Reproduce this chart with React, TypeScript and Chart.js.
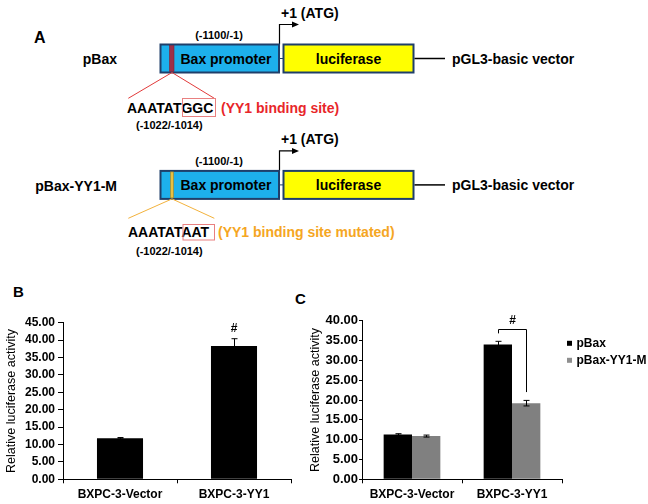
import React, { useEffect, useRef } from "react";
import { Chart, registerables } from "chart.js";
Chart.register(...registerables);

const FONT = "'Liberation Sans', Arial, Helvetica, sans-serif";

// ---------- Panel B data ----------
const categoriesB = ["BXPC-3-Vector", "BXPC-3-YY1"];
const valuesB = [11.8, 38.3];
const errorsB = [0.2, 2.1];
const marksB = ["", "#"];
const yMaxB = 45;
const yStepB = 5;

// ---------- Panel C data ----------
const categoriesC = ["BXPC-3-Vector", "BXPC-3-YY1"];
const seriesNamesC = ["pBax", "pBax-YY1-M"];
const pBaxValues = [11.3, 34.0];
const pBaxErrors = [0.2, 0.8];
const mutValues = [10.9, 19.2];
const mutErrors = [0.25, 0.7];
const yMaxC = 40;
const yStepC = 5;
const bracketLevel = 38;
const bracketLegEnds = [36.8, 22.0];
const bracketMark = "#";

const AXIS_TITLE = "Relative luciferase activity";

const errorBarPlugin = {
  id: "errorBars",
  afterDatasetsDraw(chart: any) {
    const { ctx } = chart;
    const y = chart.scales.y;
    chart.data.datasets.forEach((ds: any, i: number) => {
      const meta = chart.getDatasetMeta(i);
      meta.data.forEach((bar: any, j: number) => {
        const v = ds.data[j];
        const e = ds.errors[j];
        const top = y.getPixelForValue(v + e);
        const bot = y.getPixelForValue(v - e);
        const x = Math.round(bar.x) + 0.5;
        ctx.save();
        ctx.strokeStyle = "#000";
        ctx.lineWidth = 1;
        ctx.beginPath();
        ctx.moveTo(x, top);
        ctx.lineTo(x, bot);
        ctx.moveTo(x - 3, top);
        ctx.lineTo(x + 3, top);
        ctx.moveTo(x - 3, bot);
        ctx.lineTo(x + 3, bot);
        ctx.stroke();
        ctx.restore();
      });
    });
  },
};

const marksPluginB = {
  id: "marksB",
  afterDatasetsDraw(chart: any) {
    const { ctx } = chart;
    const y = chart.scales.y;
    const ds: any = chart.data.datasets[0];
    const meta = chart.getDatasetMeta(0);
    meta.data.forEach((bar: any, j: number) => {
      if (!marksB[j]) return;
      const top = y.getPixelForValue(ds.data[j] + ds.errors[j]);
      ctx.save();
      ctx.fillStyle = "#000";
      ctx.font = `bold 12px ${FONT}`;
      ctx.textAlign = "center";
      ctx.textBaseline = "middle";
      ctx.fillText(marksB[j], bar.x, top - 10);
      ctx.restore();
    });
  },
};

const bracketPluginC = {
  id: "bracketC",
  afterDatasetsDraw(chart: any) {
    const { ctx } = chart;
    const y = chart.scales.y;
    const b0 = chart.getDatasetMeta(0).data[1];
    const b1 = chart.getDatasetMeta(1).data[1];
    const x0 = Math.round(b0.x) + 0.5;
    const x1 = Math.round(b1.x) + 0.5;
    const yt = Math.round(y.getPixelForValue(bracketLevel)) + 0.5;
    ctx.save();
    ctx.strokeStyle = "#000";
    ctx.lineWidth = 1;
    ctx.beginPath();
    ctx.moveTo(x0, y.getPixelForValue(bracketLegEnds[0]));
    ctx.lineTo(x0, yt);
    ctx.lineTo(x1, yt);
    ctx.lineTo(x1, y.getPixelForValue(bracketLegEnds[1]));
    ctx.stroke();
    ctx.fillStyle = "#000";
    ctx.font = `bold 12px ${FONT}`;
    ctx.textAlign = "center";
    ctx.textBaseline = "middle";
    ctx.fillText(bracketMark, (x0 + x1) / 2, yt - 9);
    ctx.restore();
  },
};

const legendPluginC = {
  id: "legendC",
  afterDraw(chart: any) {
    const { ctx, chartArea } = chart;
    ctx.save();
    chart.data.datasets.forEach((ds: any, i: number) => {
      const cy = chartArea.top + 22.6 + i * 17;
      ctx.fillStyle = ds.legendColor || ds.backgroundColor;
      ctx.fillRect(chartArea.right + 5, cy - 2.5, 5, 5);
      ctx.fillStyle = "#000";
      ctx.font = `bold 12px ${FONT}`;
      ctx.textAlign = "left";
      ctx.textBaseline = "middle";
      ctx.fillText(ds.label, chartArea.right + 14.5, cy);
    });
    ctx.restore();
  },
};

function axisOptions(max: number, step: number, yWidth: number, titlePad: number, tickFont: number, tickLen: number, tickPad: number) {
  return {
    x: {
      type: "category",
      offset: true,
      grid: { display: true, drawOnChartArea: false, drawTicks: true, tickLength: 4, color: "#000", offset: true },
      border: { display: true, color: "#000", width: 1 },
      ticks: { color: "#000", font: { family: FONT, size: 12, weight: "bold" }, padding: 4.5, maxRotation: 0, autoSkip: false },
      afterFit: (s: any) => {
        s.height = 24.7;
      },
    },
    y: {
      min: 0,
      max,
      ticks: {
        stepSize: step,
        autoSkip: false,
        color: "#000",
        font: { family: FONT, size: tickFont, weight: "bold" },
        padding: tickPad,
        callback: (v: any) => Number(v).toFixed(2),
      },
      grid: { display: true, drawOnChartArea: false, drawTicks: true, tickLength: tickLen, color: "#000" },
      border: { display: true, color: "#000", width: 1 },
      title: {
        display: true,
        text: AXIS_TITLE,
        color: "#000",
        font: { family: FONT, size: 12.5, weight: "normal" },
        padding: { top: titlePad, bottom: 0 },
      },
      afterFit: (s: any) => {
        s.width = yWidth;
      },
    },
  };
}

function Construct(props: {
  dy: number;
  label: string;
  labelY: number;
  markFill: string;
  markStroke: string;
  markX: number;
  markW: number;
  lineColor: string;
  lineEndY: number;
  seqY: number;
  seqX: number;
  seqBase: string;
  seqBoxed: string;
  box: [number, number, number, number];
  desc: string;
  descX: number;
  descColor: string;
  posY: number;
}) {
  const d = props.dy;
  const boxTop = 44.5 + d;
  const boxMid = 58.5 + d;
  const bold = { fontWeight: "bold" as const };
  return (
    <g>
      <text x={117} y={props.labelY} fontSize={14} {...bold} textAnchor="end" dominantBaseline="central">
        {props.label}
      </text>
      <text x={219} y={34.5 + d} fontSize={11} {...bold} textAnchor="middle" dominantBaseline="central">
        (-1100/-1)
      </text>
      <text x={281} y={13 + d} fontSize={14} {...bold} dominantBaseline="central">
        +1 (ATG)
      </text>
      <path d={`M279.5 ${boxTop} V${24.5 + d} H293`} stroke="#000" strokeWidth={1.2} fill="none" />
      <path d={`M292 ${21.5 + d} L299 ${24.5 + d} L292 ${27.5 + d} Z`} fill="#000" />
      <rect x={160.5} y={boxTop} width={118.5} height={28} fill="#1DB0EC" stroke="#1F3F6A" strokeWidth={2} />
      <rect x={props.markX} y={boxTop + 1} width={props.markW} height={26} fill={props.markFill} stroke={props.markStroke} strokeWidth={0.6} />
      <line x1={279} y1={boxMid} x2={283.5} y2={boxMid} stroke="#1F3F6A" strokeWidth={1} />
      <rect x={283.5} y={boxTop} width={130} height={28} fill="#FFFF00" stroke="#1F3F6A" strokeWidth={2} />
      <text x={226} y={boxMid + 0.5} fontSize={14} {...bold} textAnchor="middle" dominantBaseline="central">
        Bax promoter
      </text>
      <text x={348.5} y={boxMid + 0.5} fontSize={14} {...bold} textAnchor="middle" dominantBaseline="central">
        luciferase
      </text>
      <line x1={414.5} y1={boxMid} x2={445} y2={boxMid} stroke="#000" strokeWidth={1.5} />
      <text x={452} y={boxMid + 0.5} fontSize={14} {...bold} dominantBaseline="central">
        pGL3-basic vector
      </text>
      <line x1={172} y1={boxTop + 28} x2={128.3} y2={props.lineEndY} stroke={props.lineColor} strokeWidth={1} />
      <line x1={172} y1={boxTop + 28} x2={214.3} y2={props.lineEndY} stroke={props.lineColor} strokeWidth={1} />
      <text x={props.seqX} y={props.seqY} fontSize={14} {...bold} dominantBaseline="central">
        {props.seqBase}
        <tspan>{props.seqBoxed}</tspan>
      </text>
      <rect x={props.box[0]} y={props.box[1]} width={props.box[2]} height={props.box[3]} fill="none" stroke="#E98080" strokeWidth={1} />
      <text x={props.descX} y={props.seqY} fontSize={14} {...bold} fill={props.descColor} dominantBaseline="central">
        {props.desc}
      </text>
      <text x={136} y={props.posY} fontSize={11} {...bold} dominantBaseline="central">
        (-1022/-1014)
      </text>
    </g>
  );
}

export default function App() {
  const refB = useRef<HTMLCanvasElement>(null);
  const refC = useRef<HTMLCanvasElement>(null);

  useEffect(() => {
    const chartB = new Chart(refB.current as HTMLCanvasElement, {
      type: "bar",
      data: {
        labels: categoriesB,
        datasets: [
          {
            label: "pBax",
            data: valuesB,
            errors: errorsB,
            backgroundColor: "#000000",
            borderWidth: 0,
            categoryPercentage: 1,
            barPercentage: 0.404,
          } as any,
        ],
      },
      options: {
        responsive: false,
        maintainAspectRatio: false,
        animation: false,
        layout: { padding: { top: 22.7, right: 9, bottom: 0, left: 0 } },
        plugins: { legend: { display: false }, tooltip: { enabled: false } },
        scales: axisOptions(yMaxB, yStepB, 63, 4.5, 12, 5, 3) as any,
      },
      plugins: [errorBarPlugin, marksPluginB],
    });

    const chartC = new Chart(refC.current as HTMLCanvasElement, {
      type: "bar",
      data: {
        labels: categoriesC,
        datasets: [
          {
            label: seriesNamesC[0],
            data: pBaxValues,
            errors: pBaxErrors,
            backgroundColor: "#000000",
            borderWidth: 0,
            categoryPercentage: 0.567,
            barPercentage: 1,
          } as any,
          {
            label: seriesNamesC[1],
            data: mutValues,
            errors: mutErrors,
            backgroundColor: "#808080",
            legendColor: "#8f8f8f",
            borderWidth: 0,
            categoryPercentage: 0.567,
            barPercentage: 1,
          } as any,
        ],
      },
      options: {
        responsive: false,
        maintainAspectRatio: false,
        animation: false,
        layout: { padding: { top: 20.7, right: 86, bottom: 0, left: 0 } },
        plugins: { legend: { display: false }, tooltip: { enabled: false } },
        scales: axisOptions(yMaxC, yStepC, 62, 8.5, 13, 3, 1) as any,
      },
      plugins: [errorBarPlugin, bracketPluginC, legendPluginC],
    });

    return () => {
      chartB.destroy();
      chartC.destroy();
    };
  }, []);

  return (
    <div
      style={{
        position: "fixed",
        left: 0,
        top: 0,
        width: 648,
        height: 504,
        background: "#fff",
        overflow: "hidden",
      }}
    >
      <svg width={648} height={504} style={{ position: "absolute", left: 0, top: 0 }} fontFamily={FONT}>
        <text x={34} y={37} fontSize={16} fontWeight="bold" dominantBaseline="central">
          A
        </text>
        <Construct
          dy={0}
          label="pBax"
          labelY={59}
          markFill="#9E2F48"
          markStroke="#7A2238"
          markX={169.5}
          markW={4.5}
          lineColor="#E23A3A"
          lineEndY={98.3}
          seqY={107.5}
          seqX={127}
          seqBase="AAATAT"
          seqBoxed="GGC"
          box={[182.5, 98.5, 33, 18]}
          desc="(YY1 binding site)"
          descX={221}
          descColor="#E8262A"
          posY={125}
        />
        <Construct
          dy={126.4}
          label="pBax-YY1-M"
          labelY={186}
          markFill="#E8C040"
          markStroke="#A08020"
          markX={170.5}
          markW={3}
          lineColor="#F3B23C"
          lineEndY={218.3}
          seqY={232}
          seqX={128}
          seqBase="AAATAT"
          seqBoxed="AAT"
          box={[183, 224.5, 31.5, 15.5]}
          desc="(YY1 binding site mutated)"
          descX={218}
          descColor="#F5A623"
          posY={251}
        />
        <text x={13} y={291.5} fontSize={15} fontWeight="bold" dominantBaseline="central">
          B
        </text>
        <text x={295} y={298} fontSize={15} fontWeight="bold" dominantBaseline="central">
          C
        </text>
      </svg>
      <canvas ref={refB} width={300} height={204} style={{ position: "absolute", left: 0, top: 300 }} />
      <canvas ref={refC} width={348} height={204} style={{ position: "absolute", left: 300, top: 300 }} />
    </div>
  );
}
